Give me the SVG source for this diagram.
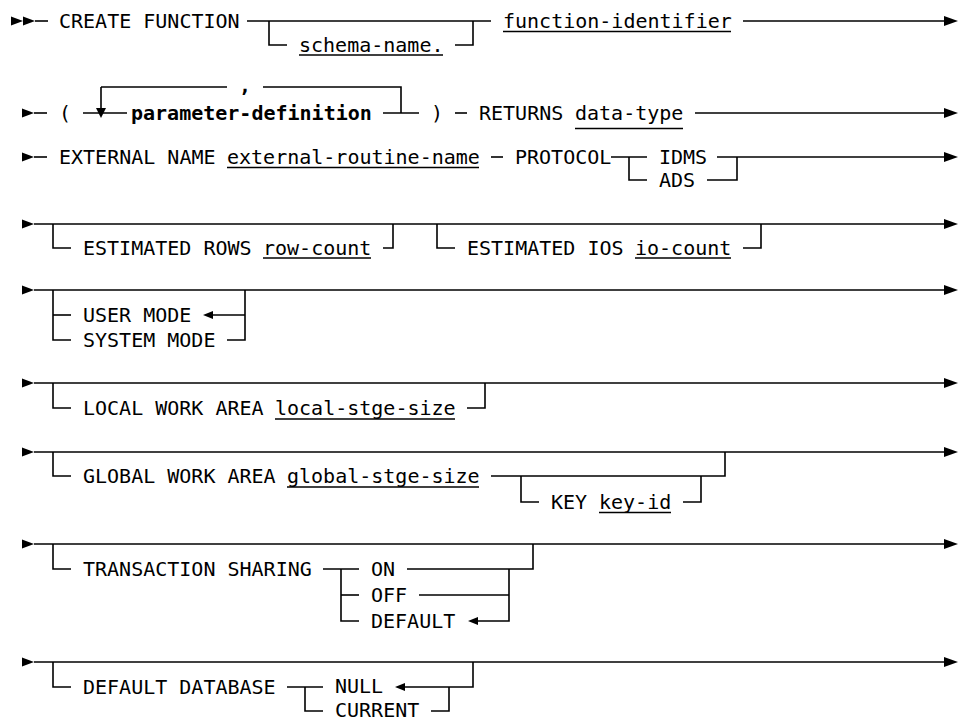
<svg xmlns="http://www.w3.org/2000/svg" width="960" height="721" viewBox="0 0 960 721">
<style>
.t{font-family:"DejaVu Sans Mono","Liberation Mono",monospace;font-size:20px;fill:#000}
.b{font-weight:bold}
.c path{fill:none;stroke:#000;stroke-width:1.6}
.u{stroke:#000;stroke-width:1.4}
.a{fill:#000;stroke:none}
</style>
<defs>
<path id="endArrow" class="a" d="M0,-5 L14,0 L0,5 Z"/>
<path id="startArrow" class="a" d="M0,-4.5 L12,0 L0,4.5 Z"/>
<path id="leftArrow" class="a" d="M0,0 L10,-4 L10,4 Z"/>
<path id="downArrow" class="a" d="M-5,0 L5,0 L0,10 Z"/>
</defs>
<rect width="960" height="721" fill="#fff"/>

<g id="connectors" class="c">
<!-- row 1 -->
<use href="#startArrow" x="11" y="21"/>
<use href="#startArrow" x="23" y="21"/>
<path d="M35,21 H48"/>
<path d="M247,21 H491"/>
<path d="M269,21 V45 H287"/>
<path d="M455,45 H473 V21"/>
<path d="M743,21 H945"/>
<use href="#endArrow" x="944" y="21"/>
<!-- row 2 -->
<use href="#startArrow" x="22" y="113"/>
<path d="M34,113 H47"/>
<path d="M83,113 H127"/>
<path d="M101,87 V109"/>
<use href="#downArrow" x="101" y="108"/>
<path d="M101,87 H227"/>
<path d="M263,87 H401 V113"/>
<path d="M383,113 H419"/>
<path d="M455,113 H467"/>
<path d="M695,113 H945"/>
<use href="#endArrow" x="944" y="113"/>
<!-- row 3 -->
<use href="#startArrow" x="22" y="157"/>
<path d="M34,157 H47"/>
<path d="M491,157 H503"/>
<path d="M611,157 H647"/>
<path d="M629,157 V180 H647"/>
<path d="M717,157 H945"/>
<path d="M707,180 H737 V157"/>
<use href="#endArrow" x="944" y="157"/>
<!-- row 4 -->
<use href="#startArrow" x="22" y="224"/>
<path d="M34,224 H945"/>
<path d="M53,224 V248 H71"/>
<path d="M383,248 H393 V224"/>
<path d="M437,224 V248 H455"/>
<path d="M743,248 H761 V224"/>
<use href="#endArrow" x="944" y="224"/>
<!-- row 5 -->
<use href="#startArrow" x="22" y="290"/>
<path d="M34,290 H945"/>
<path d="M53,290 V340 H71"/>
<path d="M53,315 H71"/>
<path d="M212,315 H245"/>
<path d="M227,340 H245 V290"/>
<use href="#leftArrow" x="203" y="315"/>
<use href="#endArrow" x="944" y="290"/>
<!-- row 6 -->
<use href="#startArrow" x="22" y="383"/>
<path d="M34,383 H945"/>
<path d="M53,383 V408 H71"/>
<path d="M467,408 H485 V383"/>
<use href="#endArrow" x="944" y="383"/>
<!-- row 7 -->
<use href="#startArrow" x="22" y="452"/>
<path d="M34,452 H945"/>
<path d="M53,452 V476 H71"/>
<path d="M491,476 H725 V452"/>
<path d="M521,476 V502 H539"/>
<path d="M683,502 H701 V476"/>
<use href="#endArrow" x="944" y="452"/>
<!-- row 8 -->
<use href="#startArrow" x="22" y="544"/>
<path d="M34,544 H945"/>
<path d="M53,544 V569 H71"/>
<path d="M323,569 H359"/>
<path d="M341,569 V621 H359"/>
<path d="M341,595 H359"/>
<path d="M407,569 H533 V544"/>
<path d="M419,595 H509"/>
<path d="M477,621 H509 V569"/>
<use href="#leftArrow" x="468" y="621"/>
<use href="#endArrow" x="944" y="544"/>
<!-- row 9 -->
<use href="#startArrow" x="22" y="662"/>
<path d="M34,662 H945"/>
<path d="M53,662 V687 H71"/>
<path d="M287,687 H323"/>
<path d="M305,687 V711 H323"/>
<path d="M404,687 H473 V662"/>
<use href="#leftArrow" x="395" y="687"/>
<path d="M431,711 H449 V687"/>
<use href="#endArrow" x="944" y="662"/>
</g>

<g id="n-create-function"><text class="t" x="59" y="28.3">CREATE FUNCTION</text></g>
<g id="n-schema-name"><text class="t" x="299" y="52.3">schema-name.</text><line class="u" x1="299" y1="55" x2="443" y2="55"/></g>
<g id="n-function-identifier"><text class="t" x="503" y="28.3">function-identifier</text><line class="u" x1="503" y1="31.5" x2="731" y2="31.5"/></g>

<g id="n-open-paren"><text class="t" x="59" y="120.3">(</text></g>
<g id="n-comma"><text class="t b" x="239" y="92">,</text></g>
<g id="n-parameter-definition"><text class="t b" x="131" y="120.3">parameter-definition</text></g>
<g id="n-close-paren"><text class="t" x="431" y="120.3">)</text></g>
<g id="n-returns"><text class="t" x="479" y="120.3">RETURNS</text></g>
<g id="n-data-type"><text class="t" x="575" y="120.3">data-type</text><line class="u" x1="575" y1="128.5" x2="683" y2="128.5"/></g>

<g id="n-external-name"><text class="t" x="59" y="164.3">EXTERNAL NAME</text></g>
<g id="n-external-routine-name"><text class="t" x="227" y="164.3">external-routine-name</text><line class="u" x1="227" y1="167.5" x2="479" y2="167.5"/></g>
<g id="n-protocol"><text class="t" x="515" y="164.3">PROTOCOL</text></g>
<g id="n-idms"><text class="t" x="659" y="164.3">IDMS</text></g>
<g id="n-ads"><text class="t" x="659" y="187.3">ADS</text></g>

<g id="n-estimated-rows"><text class="t" x="83" y="255.3">ESTIMATED ROWS</text></g>
<g id="n-row-count"><text class="t" x="263" y="255.3">row-count</text><line class="u" x1="263" y1="258" x2="371" y2="258"/></g>
<g id="n-estimated-ios"><text class="t" x="467" y="255.3">ESTIMATED IOS</text></g>
<g id="n-io-count"><text class="t" x="635" y="255.3">io-count</text><line class="u" x1="635" y1="258" x2="731" y2="258"/></g>

<g id="n-user-mode"><text class="t" x="83" y="322.3">USER MODE</text></g>
<g id="n-system-mode"><text class="t" x="83" y="347.3">SYSTEM MODE</text></g>

<g id="n-local-work-area"><text class="t" x="83" y="415.3">LOCAL WORK AREA</text></g>
<g id="n-local-stge-size"><text class="t" x="275" y="415.3">local-stge-size</text><line class="u" x1="275" y1="419" x2="455" y2="419"/></g>

<g id="n-global-work-area"><text class="t" x="83" y="483.3">GLOBAL WORK AREA</text></g>
<g id="n-global-stge-size"><text class="t" x="287" y="483.3">global-stge-size</text><line class="u" x1="287" y1="487" x2="479" y2="487"/></g>
<g id="n-key"><text class="t" x="551" y="509.3">KEY</text></g>
<g id="n-key-id"><text class="t" x="599" y="509.3">key-id</text><line class="u" x1="599" y1="512.5" x2="671" y2="512.5"/></g>

<g id="n-transaction-sharing"><text class="t" x="83" y="576.3">TRANSACTION SHARING</text></g>
<g id="n-on"><text class="t" x="371" y="576.3">ON</text></g>
<g id="n-off"><text class="t" x="371" y="602.3">OFF</text></g>
<g id="n-default"><text class="t" x="371" y="628.3">DEFAULT</text></g>

<g id="n-default-database"><text class="t" x="83" y="694.3">DEFAULT DATABASE</text></g>
<g id="n-null"><text class="t" x="335" y="693.3">NULL</text></g>
<g id="n-current"><text class="t" x="335" y="716.5">CURRENT</text></g>
</svg>
